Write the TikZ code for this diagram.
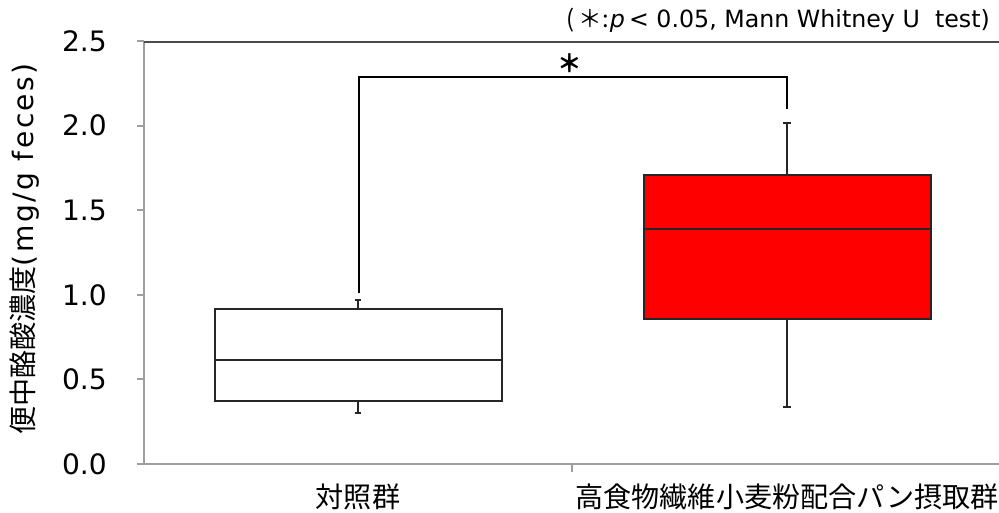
\documentclass[tikz,border=0pt]{standalone}
\usepackage{fontspec}
\setmainfont{Noto Sans CJK JP}
\newfontfamily\latinfont{DejaVu Sans}
\newfontfamily\widelatin[LetterSpace=9]{DejaVu Sans}
\newfontfamily\slantfont[FakeSlant=0.2]{DejaVu Sans}
\usetikzlibrary{positioning}

\begin{document}
\begin{tikzpicture}[x=0.02cm,y=0.02cm,
    axisline/.style={draw=black!38,line width=1.1pt},
    boxline/.style={draw=black!85,line width=0.8pt},
    sigline/.style={draw=black,line width=1.3pt},
    labelfont/.style={font=\fontsize{16}{19}\selectfont}]
    \useasboundingbox (0,0) rectangle (999,513);

    % axes
    \draw[axisline] (144,49) -- (144,472);
    \draw[axisline] (137,49) -- (999,49);
    \draw[draw=black!70,line width=1.1pt] (144,471) -- (999,471);
    \draw[axisline] (572,49) -- (572,41);
    \foreach \v/\lab in {0/0.0,1/0.5,2/1.0,3/1.5,4/2.0,5/2.5}{
        \draw[axisline] (137,49+84.6*\v) -- (144,49+84.6*\v);
        \node[labelfont,anchor=east] (tick\v) at (113,49+84.6*\v) {\latinfont\lab};
    }
    \node[labelfont,rotate=90] (ylabel) at (25,264) {便中酪酸濃度{\widelatin(mg/g feces)}};

    % control group
    \draw[boxline] (358,204) -- (358,213);
    \draw[boxline] (355,213) -- (361,213);
    \draw[boxline] (358,112) -- (358,100);
    \draw[boxline] (355,100) -- (361,100);
    \draw[boxline,fill=white] (215,112) rectangle (502,204);
    \draw[boxline] (215,153) -- (502,153);

    % fiber bread group
    \draw[boxline] (787,338) -- (787,390);
    \draw[boxline] (783,390) -- (791,390);
    \draw[boxline] (787,194) -- (787,106);
    \draw[boxline] (783,106) -- (791,106);
    \draw[boxline,fill=red] (644,194) rectangle (931,338);
    \draw[boxline] (644,284) -- (931,284);

    \node[labelfont] (grpA) at (358,16) {対照群};
    \node[labelfont] (grpB) at (787,16) {高食物繊維小麦粉配合パン摂取群};

    % significance
    \coordinate (sigA) at (359,220);
    \coordinate (sigB) at (787,404);
    \draw[sigline] (sigA) |- (573,436) -| (sigB);
    \node[font=\fontsize{14}{16}\selectfont] (star) at (570,450) {\textbf{＊}};
    \node[font=\fontsize{13.5}{16}\selectfont,anchor=east] (note) at (996,493)
        {(\,＊:{\slantfont p} {\latinfont< 0.05, Mann Whitney U\ \ test)}};
\end{tikzpicture}
\end{document}
